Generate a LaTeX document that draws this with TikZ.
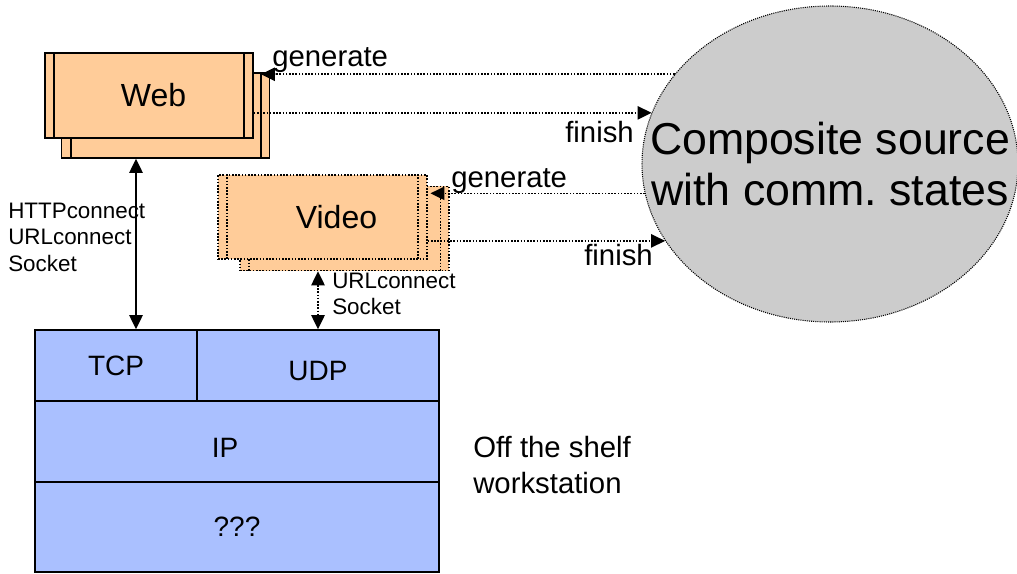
\documentclass[tikz,border=0pt]{standalone}
\usepackage{fontspec}
\setmainfont{Liberation Sans}
\usetikzlibrary{shapes.geometric,arrows.meta}
\definecolor{boxorange}{RGB}{255,204,153}
\definecolor{stackblue}{RGB}{170,192,255}
\definecolor{ellgrey}{RGB}{204,204,204}
\frenchspacing
\begin{document}
\begin{tikzpicture}[x=0.75pt,y=-0.75pt,
  tip/.style={-{Triangle[length=10.5pt,width=10pt]}},
  tips/.style={{Triangle[length=10.5pt,width=10pt]}-{Triangle[length=10.5pt,width=10pt]}},
  dotline/.style={line width=1.2pt,dash pattern=on 1.2pt off 1.2pt},
  webbox/.style={draw,fill=boxorange,line width=1.2pt,minimum width=156pt,minimum height=63.75pt,inner sep=0pt,font=\fontsize{24}{28}\selectfont},
  vidbox/.style={draw,fill=boxorange,dotline,minimum width=156.75pt,minimum height=63pt,inner sep=0pt,font=\fontsize{24}{28}\selectfont},
  procline/.style={line width=1.2pt},
  layer/.style={draw,fill=stackblue,line width=1.2pt,inner sep=0pt,font=\fontsize{21}{25}\selectfont},
  lbl/.style={inner sep=0pt,font=\fontsize{22}{26}\selectfont},
  smalllbl/.style={inner sep=0pt,align=left,font=\fontsize{16.8}{19.9}\selectfont}]
\useasboundingbox (0,0) rectangle (1017,574);

% composite source
\node[ellipse,draw,fill=ellgrey,line width=0.8pt,dash pattern=on 0.8pt off 0.8pt,
      minimum width=282pt,minimum height=237pt,inner sep=0pt] (comp) at (830,164) {};
\node[inner sep=0pt,align=center,font=\fontsize{33.5}{38.5}\selectfont] (comptext)
      at (comp.center) {Composite source\\with comm. states};

% Web boxes
\node[webbox] (webback) at (165.5,115.5) {};
\draw[procline] ([xshift=7.5pt]webback.north west) -- ([xshift=7.5pt]webback.south west);
\draw[procline] ([xshift=-7pt]webback.north east) -- ([xshift=-7pt]webback.south east);
\node[webbox] (web) at (149,95.5) {\hspace*{6.75pt}Web};
\draw[procline] ([xshift=7.5pt]web.north west) -- ([xshift=7.5pt]web.south west);
\draw[procline] ([xshift=-7.5pt]web.north east) -- ([xshift=-7.5pt]web.south east);

% Video boxes
\node[vidbox] (vidback) at (344.5,228.5) {};
\draw[dotline] ([xshift=7.5pt]vidback.north west) -- ([xshift=7.5pt]vidback.south west);
\draw[dotline] ([xshift=-7pt]vidback.north east) -- ([xshift=-7pt]vidback.south east);
\node[vidbox] (vid) at (322.5,217) {\hspace*{21pt}Video};
\draw[dotline] ([xshift=7.5pt]vid.north west) -- ([xshift=7.5pt]vid.south west);
\draw[dotline] ([xshift=-7.5pt]vid.north east) -- ([xshift=-7.5pt]vid.south east);

% protocol stack
\node[layer,minimum width=121.5pt,minimum height=53.25pt] (tcp) at (116,365.5) {TCP};
\node[layer,minimum width=181.5pt,minimum height=53.25pt,text height=22.5pt,text depth=0pt] (udp) at (318,365.5) {UDP};
\node[layer,minimum width=303pt,minimum height=60.75pt,text height=24pt,text depth=0pt] (ip) at (237,441.5) {IP\hspace*{18pt}};
\node[layer,minimum width=303pt,minimum height=67.5pt] (unk) at (237,527) {???};

% web <-> composite
\draw[dotline,tip] (comp.150) -- ([xshift=-7pt]webback.north east |- comp.150);
\draw[dotline,tip] (web.east |- comp.164) -- (comp.164);
% video <-> composite
\draw[dotline,tip] (comp.189.5) -- ([xshift=2pt]vid.east |- comp.189.5);
\draw[dotline,tip] (vid.east |- comp.205) -- (comp.205);

% vertical connectors
\draw[line width=1.2pt,tips] ([xshift=15pt]tcp.north |- webback.south) -- ([xshift=15pt]tcp.north);
\draw[dotline,tips] (udp.north |- vidback.south) -- (udp.north);

% labels
\node[lbl,anchor=base west] (gen1) at (272,67) {generate};
\node[lbl,anchor=base west] (fin1) at (565,143) {finish};
\node[lbl,anchor=base west] (gen2) at (451,188) {generate};
\node[lbl,anchor=base west] (fin2) at (584,265) {finish};
\node[smalllbl,anchor=west] (webproto) at (8,237) {HTTPconnect\\URLconnect\\Socket};
\node[smalllbl,anchor=west] (vidproto) at (332,294) {URLconnect\\Socket};
\node[lbl,align=left,anchor=west,font=\fontsize{22}{27}\selectfont] (shelf) at (473,465) {Off the shelf\\workstation};
\end{tikzpicture}
\end{document}
